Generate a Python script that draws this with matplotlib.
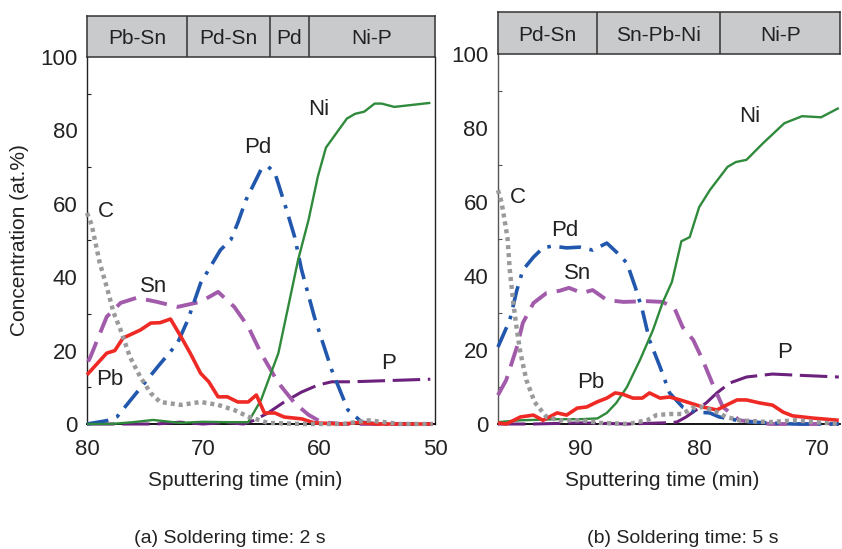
import matplotlib
matplotlib.use("Agg")
import matplotlib.pyplot as plt

plt.rcParams['font.family'] = ['Liberation Sans', 'DejaVu Sans']

# ---------------- Data: panel (a) soldering 2 s ----------------
a_ni_x = [80, 78, 76, 74.3, 72, 70, 68, 66.1, 65, 63.5, 61.8, 60.9, 60.1, 59.4, 57.6, 56.9, 56.1, 55.2, 54.6, 53.5, 50.4]
a_ni_y = [0, 0, 0.5, 1.1, 0.3, 0.6, 0.5, 0.5, 6.5, 19.3, 44.7, 55.6, 67.4, 75.3, 83.2, 84.5, 85.1, 87.3, 87.3, 86.4, 87.5]

a_pd_x = [80, 78.3, 77.4, 73.9, 72.2, 71.3, 70.2, 68.5, 67.6, 67.0, 66.3, 65.0, 64.4, 63.8, 62.8, 62.1, 61.5, 60.4, 58.9, 57.5, 56.3, 55, 50.2]
a_pd_y = [0, 0.9, 2, 15.6, 22, 28.4, 38.4, 47.4, 50.2, 54.8, 61, 69.3, 70.2, 68.4, 58.4, 51, 42, 29.2, 14.7, 3.8, 0.5, 0, 0]

a_sn_x = [79.9, 79.7, 78.3, 77.1, 75.7, 74, 72.2, 70.2, 68.7, 67.3, 66.1, 65, 63.5, 62.1, 60.9, 59.8, 58, 55, 50.2]
a_sn_y = [17, 18.3, 29.2, 33, 34.4, 33.3, 31.9, 33.3, 36, 31.9, 26.5, 19.3, 11.2, 5.7, 2.5, 0.5, 0, 0, 0]

a_pb_x = [80, 78.3, 77.6, 76.9, 75.4, 74.5, 73.7, 72.8, 71.9, 71.1, 70.2, 69.5, 68.7, 67.9, 67, 66.1, 65.4, 64.7, 63.8, 63, 61.5, 60.4, 58, 56.5, 55, 50.2]
a_pb_y = [13.4, 19.3, 20, 23.4, 25.6, 27.5, 27.6, 28.6, 23.8, 19.3, 13.8, 11.5, 7.4, 7.4, 6, 6, 7.9, 3, 3, 1.9, 1.4, 0.3, 0, 0.4, 0, 0]

a_c_x = [80, 79.6, 78.9, 78.3, 77.7, 77.1, 76.3, 75.4, 74.5, 73.7, 71.9, 70.2, 68.7, 67.3, 66.1, 64.4, 61.5, 58, 55.7, 53, 50.2]
a_c_y = [57.5, 54.3, 43.9, 37.4, 30.3, 25.6, 18.3, 12.8, 8.4, 6, 5.2, 6, 5.2, 3.8, 2, 0.3, 0, 0, 1, 0, 0]

a_p_x = [80, 77, 74, 72, 70, 68, 66.5, 65.6, 64.4, 63, 61.5, 60.1, 58.9, 57.2, 54.3, 50.4]
a_p_y = [0, 0, 0, 0.5, 0, 0.4, 0, 1, 3, 6, 8.7, 10.6, 11.5, 11.5, 11.8, 12.2]

a_bands = [(80, 71.4, "Pb-Sn"), (71.4, 64.2, "Pd-Sn"), (64.2, 60.9, "Pd"), (60.9, 50, "Ni-P")]
a_labels = [("C", 78.35, 57.8), ("Sn", 74.3, 37.4), ("Pb", 78.0, 12.0), ("Pd", 65.3, 75.3), ("Ni", 60.05, 85.6), ("P", 54.0, 16.6)]

# ---------------- Data: panel (b) soldering 5 s ----------------
b_ni_x = [97, 95.1, 92, 90, 88.6, 87.8, 87.0, 86.1, 85.0, 83.9, 83.1, 82.3, 81.5, 80.8, 80.0, 79.1, 77.6, 76.9, 76.0, 74.6, 72.8, 71.3, 69.7, 68.2]
b_ni_y = [0.5, 1, 1.3, 1.3, 1.5, 3, 5.7, 10, 17.3, 25.4, 32.7, 38.4, 49.4, 50.5, 58.6, 63.2, 69.5, 70.8, 71.4, 75.9, 81.3, 83.2, 82.9, 85.4]

b_pd_x = [97, 96, 95.4, 94.9, 94, 93.2, 92.4, 91.2, 90.1, 89, 87.8, 87, 86.1, 85.4, 84.8, 84.2, 83.3, 82.5, 81.4, 80.2, 79.1, 78.3, 76.8, 75.5, 72, 68.2]
b_pd_y = [20.8, 28.1, 36.2, 41.6, 45.1, 47.6, 48.1, 47.6, 47.8, 47, 48.9, 46.5, 43.5, 37, 30.8, 22.7, 15.4, 8.4, 4.6, 3.2, 3, 1.9, 1, 0.5, 0, 0]

b_sn_x = [97, 96.3, 95.4, 94.9, 94, 92.9, 91.8, 91, 89.9, 89, 87.8, 86.4, 84.4, 83.1, 82.1, 81.4, 80.5, 79.7, 78.9, 78, 76.6, 74, 70, 68.2]
b_sn_y = [7.8, 11.9, 20.8, 27.3, 32.7, 35.4, 36, 36.8, 35.4, 36.2, 33.5, 33, 33.2, 33, 31.4, 26.2, 22.7, 17.3, 11.1, 4.6, 1, 0, 0, 0]

b_pb_x = [97, 96.3, 95.1, 94, 93.2, 92, 91.2, 90.3, 89.5, 88.6, 87.8, 87.1, 86.5, 85.6, 84.8, 84.2, 83.3, 82.5, 81.6, 80.8, 79.7, 78.5, 77.7, 76.8, 76, 74.9, 73.8, 72.9, 72.1, 70.4, 68.2]
b_pb_y = [0.3, 0, 1.9, 2.4, 1, 3, 2.4, 4.3, 4.6, 6, 7, 8.4, 8.1, 7, 7, 8.4, 7, 7.3, 6.5, 5.7, 4.6, 3.8, 5.1, 6.5, 6.5, 5.7, 5.1, 3.2, 2.2, 1.6, 1]

b_c_x = [97, 96.7, 96.4, 96.2, 96, 95.7, 95.4, 95.1, 94.6, 93.9, 92.9, 91.8, 90, 88.4, 86, 84.4, 83.6, 82.5, 81.4, 80.6, 79.7, 78.5, 77.7, 76.6, 74.1, 71.8, 70.2, 68.2]
b_c_y = [63.2, 60, 54.3, 50.5, 41.6, 32.7, 25.4, 19.2, 11.9, 5.9, 1.9, 1, 1, 0.3, 0, 1, 2.4, 2.7, 2.7, 4.3, 4.6, 3.2, 1.9, 1, 0.5, 1, 0.5, 0]

b_p_x = [97, 94, 90, 86, 83, 81.9, 81.1, 79.4, 78.5, 77.4, 76, 73.8, 71.8, 68.2]
b_p_y = [0, 0, 0.3, 0, 0.3, 0.5, 1.9, 5.7, 8.4, 11.1, 12.7, 13.5, 13.2, 12.7]

b_bands = [(97, 88.6, "Pd-Sn"), (88.6, 78.2, "Sn-Pb-Ni"), (78.2, 68.1, "Ni-P")]
b_labels = [("C", 95.3, 61.1), ("Pd", 91.35, 52.4), ("Sn", 90.3, 40.8), ("Pb", 89.2, 11.35), ("Ni", 75.7, 83.0), ("P", 72.8, 19.2)]

# ---------------- Styles ----------------
col_ni = '#2f8a3b'
col_pd = '#2157ad'
col_sn = '#a25bab'
col_pb = '#ef2a25'
col_c = '#9a9a9c'
col_p = '#6c217c'
txt = '#222222'

fig = plt.figure(figsize=(8.42, 5.49), dpi=100)


def panel(rect, band_rect, xlim, xticks, series, bands, labels, left_color, right_spine):
    ax = fig.add_axes(rect)
    ax.set_xlim(*xlim)
    ax.set_ylim(0, 100)
    (ni_x, ni_y), (pd_x, pd_y), (sn_x, sn_y), (pb_x, pb_y), (c_x, c_y), (p_x, p_y) = series
    ax.plot(p_x, p_y, color=col_p, lw=2.2, dashes=(9, 2.5), dash_capstyle='butt', clip_on=False, zorder=3)
    ax.plot(sn_x, sn_y, color=col_sn, lw=2.8, dashes=(5.5, 2.6), dash_capstyle='butt', clip_on=False, zorder=3)
    ax.plot(pd_x, pd_y, color=col_pd, lw=2.6, dashes=(6, 2.4, 1, 2.4), dash_capstyle='butt', clip_on=False, zorder=4)
    ax.plot(ni_x, ni_y, color=col_ni, lw=1.7, solid_capstyle='butt', clip_on=False, zorder=4)
    ax.plot(pb_x, pb_y, color=col_pb, lw=2.6, solid_capstyle='butt', clip_on=False, zorder=5)
    ax.plot(c_x, c_y, color=col_c, lw=3.2, dashes=(0.9, 0.9), dash_capstyle='butt', clip_on=False, zorder=6)
    for t, x, y in labels:
        ax.text(x, y, t, fontsize=16, ha='center', va='center', color=txt)
    ax.set_xticks(xticks)
    ax.set_xticklabels([str(v) for v in xticks])
    ax.set_yticks([0, 20, 40, 60, 80, 100])
    ax.set_yticks([10, 30, 50, 70, 90], minor=True)
    ax.tick_params(axis='y', which='major', length=0, pad=7, labelsize=16, labelcolor=txt)
    ax.tick_params(axis='y', which='minor', direction='in', length=3, width=0.8, color=left_color)
    ax.tick_params(axis='x', which='major', length=0, pad=11, labelsize=16, labelcolor=txt)
    ax.spines['left'].set_color(left_color)
    ax.spines['left'].set_linewidth(1.0)
    ax.spines['bottom'].set_color('black')
    ax.spines['bottom'].set_linewidth(1.3)
    ax.spines['top'].set_visible(False)
    if right_spine:
        ax.spines['right'].set_color(txt)
        ax.spines['right'].set_linewidth(1.0)
    else:
        ax.spines['right'].set_visible(False)

    bx = fig.add_axes(band_rect, sharex=ax)
    bx.set_ylim(0, 1)
    bx.set_facecolor('#c9cacc')
    for s in bx.spines.values():
        s.set_color('#333333')
        s.set_linewidth(1.1)
    bx.tick_params(left=False, bottom=False, labelleft=False, labelbottom=False)
    for i, (x0, x1, name) in enumerate(bands):
        if i > 0:
            bx.axvline(x0, color='#333333', lw=1.1)
        bx.text((x0 + x1) / 2, 0.45, name, fontsize=15, ha='center', va='center', color=txt)
    ax.set_xlim(*xlim)
    return ax


ax1 = panel([0.1033, 0.2277, 0.4133, 0.6685], [0.1033, 0.8962, 0.4133, 0.0747],
            (80, 50), [80, 70, 60, 50],
            [(a_ni_x, a_ni_y), (a_pd_x, a_pd_y), (a_sn_x, a_sn_y), (a_pb_x, a_pb_y), (a_c_x, a_c_y), (a_p_x, a_p_y)],
            a_bands, a_labels, txt, True)
ax2 = panel([0.5914, 0.2277, 0.4062, 0.6739], [0.5914, 0.9016, 0.4062, 0.0765],
            (97, 68.1), [90, 80, 70],
            [(b_ni_x, b_ni_y), (b_pd_x, b_pd_y), (b_sn_x, b_sn_y), (b_pb_x, b_pb_y), (b_c_x, b_c_y), (b_p_x, b_p_y)],
            b_bands, b_labels, '#555555', False)

ax1.set_ylabel("Concentration (at.%)", fontsize=15, color=txt, labelpad=8)

fig.text(0.291, 0.124, "Sputtering time (min)", fontsize=15, ha='center', va='center', color=txt)
fig.text(0.786, 0.124, "Sputtering time (min)", fontsize=15, ha='center', va='center', color=txt)
fig.text(0.273, 0.020, "(a) Soldering time: 2 s", fontsize=14, ha='center', va='center', color=txt)
fig.text(0.811, 0.020, "(b) Soldering time: 5 s", fontsize=14, ha='center', va='center', color=txt)

fig.savefig("out.png", dpi=100)
